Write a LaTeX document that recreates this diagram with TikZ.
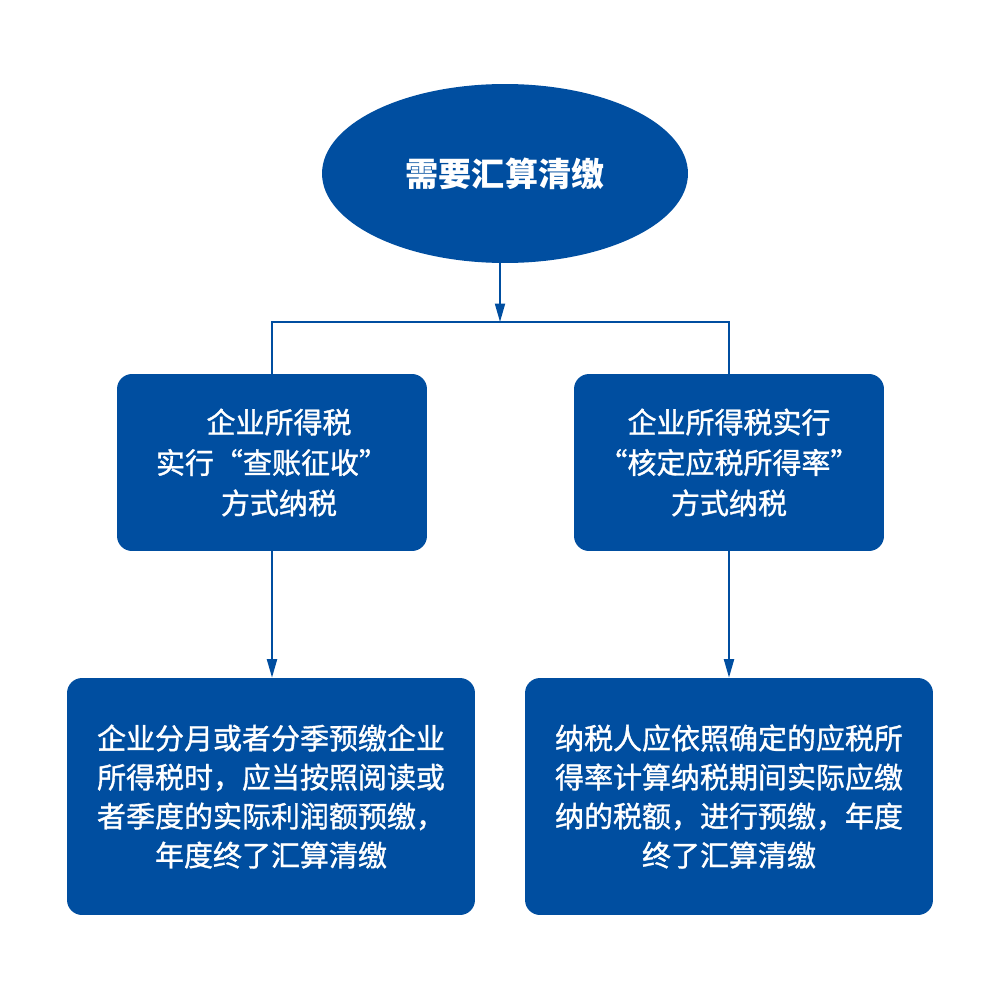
\documentclass[tikz,border=0pt]{standalone}
\usepackage{fontspec}
\setmainfont{Noto Sans CJK SC}
\newfontfamily\medcjk[FakeBold=1.2]{Noto Sans CJK SC}
\usetikzlibrary{shapes.geometric,arrows.meta}
\definecolor{flowblue}{HTML}{004EA0}
\begin{document}
\begin{tikzpicture}[x=0.02cm,y=-0.02cm,
  termbox/.style={ellipse,fill=flowblue,draw=none,minimum width=7.32cm,minimum height=3.58cm,inner sep=0pt,text=white,font=\fontsize{18.8pt}{24pt}\selectfont\bfseries},
  midbox/.style={rectangle,rounded corners=0.3cm,fill=flowblue,draw=none,minimum width=6.2cm,minimum height=3.54cm,inner sep=0pt,text=white,align=center,font=\medcjk\fontsize{16.5pt}{23pt}\selectfont},
  lowbox/.style={rectangle,rounded corners=0.3cm,fill=flowblue,draw=none,minimum width=8.16cm,minimum height=4.74cm,inner sep=0pt,text=white,align=center,font=\medcjk\fontsize{16.5pt}{22.2pt}\selectfont},
  link/.style={draw=flowblue,line width=1.15pt},
  arrowlink/.style={link,-{Triangle[length=0.37cm,width=0.2cm]}}
]
\useasboundingbox (0,0) rectangle (1000,1000);
\fill[white] (0,0) rectangle (1000,1000);
\node[termbox] (top) at (505,173.5) {需要汇算清缴};
\coordinate (j) at (500,322);
\node[midbox] (b1) at (272,462.5) {\hspace*{0.28cm}企业所得税\\实行“查账征收”\\\hspace*{0.28cm}方式纳税};
\node[midbox] (b2) at (729,462.5) {企业所得税实行\\“核定应税所得率”\\方式纳税};
\node[lowbox] (b3) at (271,796.5) {企业分月或者分季预缴企业\\所得税时，应当按照阅读或\\者季度的实际利润额预缴，\\年度终了汇算清缴};
\node[lowbox] (b4) at (729,796.5) {纳税人应依照确定的应税所\\得率计算纳税期间实际应缴\\纳的税额，进行预缴，年度\\终了汇算清缴};
\draw[arrowlink] (top.south -| j) -- (j);
\draw[link] (b1.north) |- (j) -| (b2.north);
\draw[arrowlink] (b1.south) -- (b1.south |- b3.north);
\draw[arrowlink] (b2.south) -- (b2.south |- b4.north);
\end{tikzpicture}
\end{document}
